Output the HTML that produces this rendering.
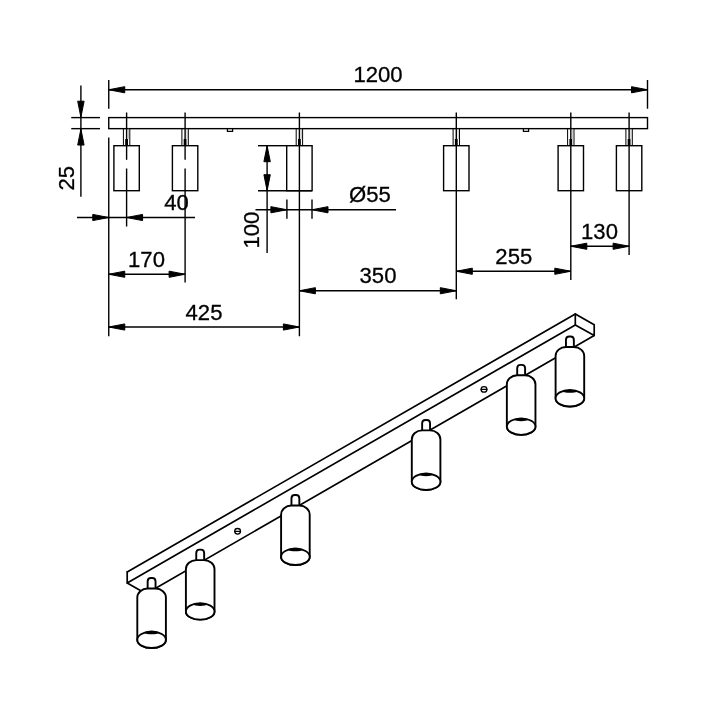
<!DOCTYPE html>
<html lang="en"><head><meta charset="utf-8"><title>1200 track spotlight dimensions</title>
<style>
html,body{margin:0;padding:0;background:#fff}
body{width:720px;height:720px;overflow:hidden}
svg{display:block;will-change:transform}
.f{fill:#000}
.w{fill:#fff}
</style></head><body>
<svg width="720" height="720" viewBox="0 0 720 720">
<g fill="none" stroke="#000" stroke-linecap="butt" stroke-linejoin="miter">
<rect x="108.75" y="117.6" width="538.75" height="11.050000000000011" stroke-width="1.4"/>
<path d="M227.4 128.65V131.3H232.6V128.65" stroke-width="1.2"/>
<path d="M523.4 128.65V131.3H528.6V128.65" stroke-width="1.2"/>
<line x1="108.75" y1="80" x2="108.75" y2="108.75" stroke-width="1.4" />
<line x1="108.75" y1="137.5" x2="108.75" y2="336.25" stroke-width="1.4" />
<line x1="647.5" y1="80" x2="647.5" y2="108.75" stroke-width="1.4" />
<line x1="108.75" y1="89.75" x2="647.5" y2="89.75" stroke-width="1.4" />
<polygon class="f" points="108.75,89.75 124.75,86.65 124.75,92.85"/>
<polygon class="f" points="647.5,89.75 631.50,92.85 631.50,86.65"/>
<line x1="71.25" y1="117.6" x2="100" y2="117.6" stroke-width="1.4" />
<line x1="71.25" y1="128.65" x2="100" y2="128.65" stroke-width="1.4" />
<line x1="80.9" y1="85.6" x2="80.9" y2="196.7" stroke-width="1.4" />
<polygon class="f" points="80.9,117.19999999999999 77.70,101.20 84.10,101.20"/>
<polygon class="f" points="80.9,129.05 84.10,145.05 77.70,145.05"/>
<line x1="123.39999999999999" y1="128.65" x2="123.39999999999999" y2="145.7" stroke-width="1" />
<line x1="129.79999999999998" y1="128.65" x2="129.79999999999998" y2="145.7" stroke-width="1" />
<line x1="128.5" y1="128.65" x2="128.5" y2="139" stroke-width="0.6" stroke="#999"/>
<rect class="f" x="125.20" y="139.0" width="2.8" height="6.6" stroke="none"/>
<rect x="113.90" y="145.7" width="25.4" height="45" stroke-width="1.4"/>
<line x1="126.6" y1="112.5" x2="126.6" y2="159.8" stroke-width="1.4" />
<line x1="126.6" y1="168.5" x2="126.6" y2="226.5" stroke-width="1.4" />
<line x1="181.9" y1="128.65" x2="181.9" y2="145.7" stroke-width="1" />
<line x1="188.29999999999998" y1="128.65" x2="188.29999999999998" y2="145.7" stroke-width="1" />
<line x1="187.0" y1="128.65" x2="187.0" y2="139" stroke-width="0.6" stroke="#999"/>
<rect class="f" x="183.70" y="139.0" width="2.8" height="6.6" stroke="none"/>
<rect x="172.40" y="145.7" width="25.4" height="45" stroke-width="1.4"/>
<line x1="185.1" y1="112.5" x2="185.1" y2="159.8" stroke-width="1.4" />
<line x1="185.1" y1="168.5" x2="185.1" y2="282.5" stroke-width="1.4" />
<line x1="296.2" y1="128.65" x2="296.2" y2="145.7" stroke-width="1" />
<line x1="302.59999999999997" y1="128.65" x2="302.59999999999997" y2="145.7" stroke-width="1" />
<line x1="301.29999999999995" y1="128.65" x2="301.29999999999995" y2="139" stroke-width="0.6" stroke="#999"/>
<rect class="f" x="298.00" y="139.0" width="2.8" height="6.6" stroke="none"/>
<rect x="286.70" y="145.7" width="25.4" height="45" stroke-width="1.4"/>
<line x1="299.4" y1="112.5" x2="299.4" y2="336.25" stroke-width="1.4" />
<line x1="453.1" y1="128.65" x2="453.1" y2="145.7" stroke-width="1" />
<line x1="459.5" y1="128.65" x2="459.5" y2="145.7" stroke-width="1" />
<line x1="458.2" y1="128.65" x2="458.2" y2="139" stroke-width="0.6" stroke="#999"/>
<rect class="f" x="454.90" y="139.0" width="2.8" height="6.6" stroke="none"/>
<rect x="443.60" y="145.7" width="25.4" height="45" stroke-width="1.4"/>
<line x1="456.3" y1="112.5" x2="456.3" y2="299.25" stroke-width="1.4" />
<line x1="567.5999999999999" y1="128.65" x2="567.5999999999999" y2="145.7" stroke-width="1" />
<line x1="574.0" y1="128.65" x2="574.0" y2="145.7" stroke-width="1" />
<line x1="572.6999999999999" y1="128.65" x2="572.6999999999999" y2="139" stroke-width="0.6" stroke="#999"/>
<rect class="f" x="569.40" y="139.0" width="2.8" height="6.6" stroke="none"/>
<rect x="558.10" y="145.7" width="25.4" height="45" stroke-width="1.4"/>
<line x1="570.8" y1="112.5" x2="570.8" y2="280" stroke-width="1.4" />
<line x1="625.9" y1="128.65" x2="625.9" y2="145.7" stroke-width="1" />
<line x1="632.3000000000001" y1="128.65" x2="632.3000000000001" y2="145.7" stroke-width="1" />
<line x1="631.0" y1="128.65" x2="631.0" y2="139" stroke-width="0.6" stroke="#999"/>
<rect class="f" x="627.70" y="139.0" width="2.8" height="6.6" stroke="none"/>
<rect x="616.40" y="145.7" width="25.4" height="45" stroke-width="1.4"/>
<line x1="629.1" y1="112.5" x2="629.1" y2="255" stroke-width="1.4" />
<line x1="77" y1="217.5" x2="195" y2="217.5" stroke-width="1.4" />
<polygon class="f" points="108.75,217.5 92.75,220.60 92.75,214.40"/>
<polygon class="f" points="126.6,217.5 142.60,214.40 142.60,220.60"/>
<line x1="258" y1="145.7" x2="286.8" y2="145.7" stroke-width="1.4" />
<line x1="258" y1="190.7" x2="312" y2="190.7" stroke-width="1.4" />
<line x1="267.1" y1="145.7" x2="267.1" y2="253.1" stroke-width="1.4" />
<polygon class="f" points="267.1,145.7 270.30,161.70 263.90,161.70"/>
<polygon class="f" points="267.1,190.7 263.90,174.70 270.30,174.70"/>
<line x1="255.5" y1="209.75" x2="396" y2="209.75" stroke-width="1.4" />
<line x1="286.9" y1="199.5" x2="286.9" y2="218.75" stroke-width="1.4" />
<line x1="312" y1="199.5" x2="312" y2="218.75" stroke-width="1.4" />
<polygon class="f" points="286.9,209.75 270.90,212.85 270.90,206.65"/>
<polygon class="f" points="312,209.75 328.00,206.65 328.00,212.85"/>
<line x1="108.75" y1="274.25" x2="185.1" y2="274.25" stroke-width="1.4" />
<polygon class="f" points="108.75,274.25 124.75,271.15 124.75,277.35"/>
<polygon class="f" points="185.1,274.25 169.10,277.35 169.10,271.15"/>
<line x1="108.75" y1="327" x2="299.4" y2="327" stroke-width="1.4" />
<polygon class="f" points="108.75,327 124.75,323.90 124.75,330.10"/>
<polygon class="f" points="299.4,327 283.40,330.10 283.40,323.90"/>
<line x1="299.4" y1="290.75" x2="456.3" y2="290.75" stroke-width="1.4" />
<polygon class="f" points="299.4,290.75 315.40,287.65 315.40,293.85"/>
<polygon class="f" points="456.3,290.75 440.30,293.85 440.30,287.65"/>
<line x1="456.3" y1="271.25" x2="570.8" y2="271.25" stroke-width="1.4" />
<polygon class="f" points="456.3,271.25 472.30,268.15 472.30,274.35"/>
<polygon class="f" points="570.8,271.25 554.80,274.35 554.80,268.15"/>
<line x1="570.8" y1="246.25" x2="629.1" y2="246.25" stroke-width="1.4" />
<polygon class="f" points="570.8,246.25 586.80,243.15 586.80,249.35"/>
<polygon class="f" points="629.1,246.25 613.10,249.35 613.10,243.15"/>
<g stroke-linejoin="round" stroke-linecap="round">
<path d="M127.2 571.9 L575.3 313.9" stroke-width="1.7" stroke-linejoin="round"/>
<path d="M127.2 582.9 L575.3 324.9" stroke-width="1.7" stroke-linejoin="round"/>
<path d="M146.1 593.7 L594.2 335.5" stroke-width="1.7" stroke-linejoin="round"/>
<path d="M127.2 571.9 L127.2 582.9 L146.1 593.7" stroke-width="1.7" stroke-linejoin="round"/>
<path d="M575.3 313.9 L594.2 324.7 L594.2 335.5 L575.3 324.9 Z" stroke-width="1.7" stroke-linejoin="round"/>
<ellipse cx="237.6" cy="531.3" rx="2.9" ry="2.8" stroke-width="1.3"/>
<line x1="234.7" y1="531.3" x2="240.5" y2="531.3" stroke-width="1.2" />
<ellipse cx="484.0" cy="389.4" rx="2.9" ry="2.8" stroke-width="1.3"/>
<line x1="481.1" y1="389.4" x2="486.9" y2="389.4" stroke-width="1.2" />
<path class="w" d="M147.65 589.5 V581.45 q0 -3.4 3.4 -3.4 h1.1 q3.4 0 3.4 3.4 V589.5 Z" stroke-width="1.9"/>
<path class="w" d="M137.30 639.80 V597.50 A10.5 9 0 0 1 147.70 588.5 H155.50 A10.5 9 0 0 1 165.90 597.50 V639.80 A14.3 8.25 0 0 1 137.30 639.80 Z" stroke-width="1.9"/>
<ellipse class="w" cx="151.6" cy="639.80" rx="14.3" ry="8.25" stroke-width="1.9"/>
<path class="f" stroke="none" d="M143.60 632.94 A14.3 8.25 0 0 1 159.60 632.94 C156.10 634.80 147.10 634.80 143.60 632.94 Z"/>
<path class="w" d="M196.25 561.1 V553.05 q0 -3.4 3.4 -3.4 h1.1 q3.4 0 3.4 3.4 V561.1 Z" stroke-width="1.9"/>
<path class="w" d="M185.90 611.40 V569.10 A10.5 9 0 0 1 196.30 560.1 H204.10 A10.5 9 0 0 1 214.50 569.10 V611.40 A14.3 8.25 0 0 1 185.90 611.40 Z" stroke-width="1.9"/>
<ellipse class="w" cx="200.2" cy="611.40" rx="14.3" ry="8.25" stroke-width="1.9"/>
<path class="f" stroke="none" d="M192.20 604.54 A14.3 8.25 0 0 1 208.20 604.54 C204.70 606.40 195.70 606.40 192.20 604.54 Z"/>
<path class="w" d="M291.45 506.5 V498.45 q0 -3.4 3.4 -3.4 h1.1 q3.4 0 3.4 3.4 V506.5 Z" stroke-width="1.9"/>
<path class="w" d="M281.10 556.80 V514.50 A10.5 9 0 0 1 291.50 505.5 H299.30 A10.5 9 0 0 1 309.70 514.50 V556.80 A14.3 8.25 0 0 1 281.10 556.80 Z" stroke-width="1.9"/>
<ellipse class="w" cx="295.4" cy="556.80" rx="14.3" ry="8.25" stroke-width="1.9"/>
<path class="f" stroke="none" d="M287.40 549.94 A14.3 8.25 0 0 1 303.40 549.94 C299.90 551.80 290.90 551.80 287.40 549.94 Z"/>
<path class="w" d="M422.15 431.4 V423.35 q0 -3.4 3.4 -3.4 h1.1 q3.4 0 3.4 3.4 V431.4 Z" stroke-width="1.9"/>
<path class="w" d="M411.80 481.70 V439.40 A10.5 9 0 0 1 422.20 430.4 H430.00 A10.5 9 0 0 1 440.40 439.40 V481.70 A14.3 8.25 0 0 1 411.80 481.70 Z" stroke-width="1.9"/>
<ellipse class="w" cx="426.1" cy="481.70" rx="14.3" ry="8.25" stroke-width="1.9"/>
<path class="f" stroke="none" d="M418.10 474.84 A14.3 8.25 0 0 1 434.10 474.84 C430.60 476.70 421.60 476.70 418.10 474.84 Z"/>
<path class="w" d="M517.20 376.3 V368.25 q0 -3.4 3.4 -3.4 h1.1 q3.4 0 3.4 3.4 V376.3 Z" stroke-width="1.9"/>
<path class="w" d="M506.85 426.60 V384.30 A10.5 9 0 0 1 517.25 375.3 H525.05 A10.5 9 0 0 1 535.45 384.30 V426.60 A14.3 8.25 0 0 1 506.85 426.60 Z" stroke-width="1.9"/>
<ellipse class="w" cx="521.15" cy="426.60" rx="14.3" ry="8.25" stroke-width="1.9"/>
<path class="f" stroke="none" d="M513.15 419.74 A14.3 8.25 0 0 1 529.15 419.74 C525.65 421.60 516.65 421.60 513.15 419.74 Z"/>
<path class="w" d="M565.95 347.95 V339.90 q0 -3.4 3.4 -3.4 h1.1 q3.4 0 3.4 3.4 V347.95 Z" stroke-width="1.9"/>
<path class="w" d="M555.60 398.25 V355.95 A10.5 9 0 0 1 566.00 346.95 H573.80 A10.5 9 0 0 1 584.20 355.95 V398.25 A14.3 8.25 0 0 1 555.60 398.25 Z" stroke-width="1.9"/>
<ellipse class="w" cx="569.9" cy="398.25" rx="14.3" ry="8.25" stroke-width="1.9"/>
<path class="f" stroke="none" d="M561.90 391.39 A14.3 8.25 0 0 1 577.90 391.39 C574.40 393.25 565.40 393.25 561.90 391.39 Z"/>
</g>
</g>
<g fill="#000" stroke="#000" stroke-width="0.3" font-family="'Liberation Sans', Arial, sans-serif">
<text x="378" y="82.4" font-size="22.1" text-anchor="middle">1200</text>
<text x="176.6" y="210.4" font-size="22.1" text-anchor="middle">40</text>
<text x="146.5" y="266.5" font-size="22.1" text-anchor="middle">170</text>
<text x="204" y="320.2" font-size="22.1" text-anchor="middle">425</text>
<text x="378" y="283" font-size="22.1" text-anchor="middle">350</text>
<text x="513.8" y="263.5" font-size="22.1" text-anchor="middle">255</text>
<text x="599.5" y="238.9" font-size="22.1" text-anchor="middle">130</text>
<text x="370" y="202" font-size="22.1" text-anchor="middle">Ø55</text>
<text x="259.2" y="230" font-size="22.1" text-anchor="middle" transform="rotate(-90 259.2 230)">100</text>
<text x="73.6" y="178.2" font-size="22.1" text-anchor="middle" transform="rotate(-90 73.6 178.2)">25</text>
</g>
</svg>
</body></html>
